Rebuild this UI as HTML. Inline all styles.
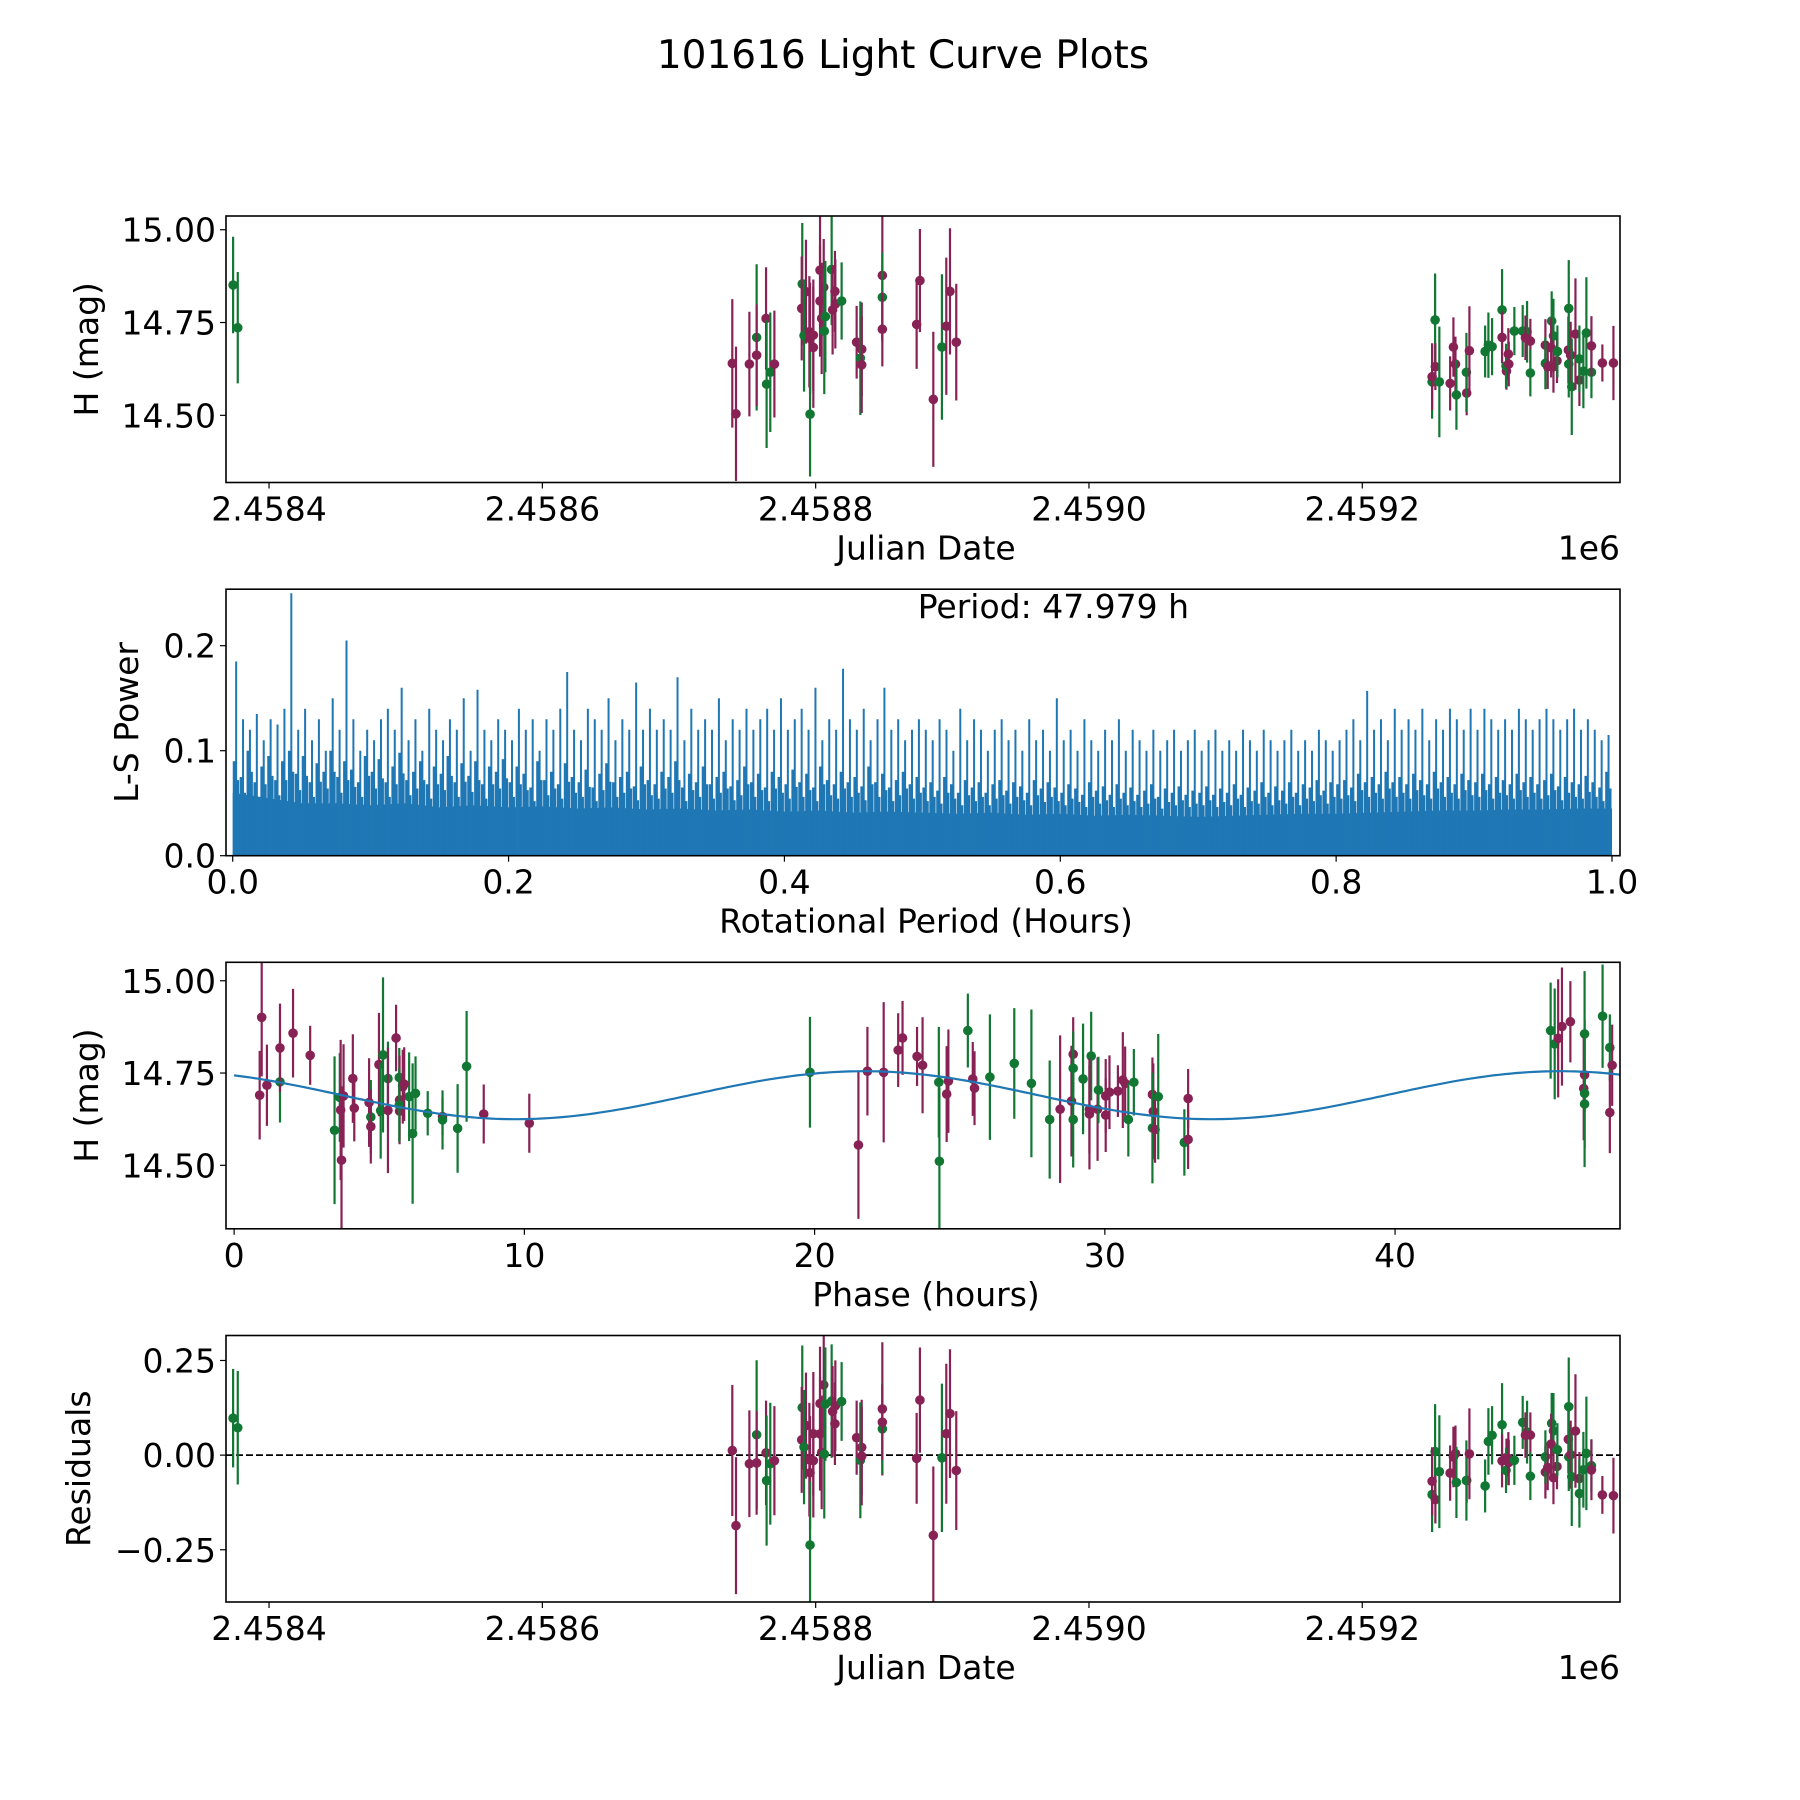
<!DOCTYPE html>
<html><head><meta charset="utf-8"><title>101616 Light Curve Plots</title>
<style>html,body{margin:0;padding:0;background:#fff}svg{display:block}text{font-family:"DejaVu Sans","Liberation Sans",sans-serif;fill:#000}</style>
</head><body>
<svg id="fig" width="1800" height="1800" viewBox="0 0 1800 1800" xmlns="http://www.w3.org/2000/svg">
<rect width="1800" height="1800" fill="#fff"/>
<text x="903" y="68" font-size="39" text-anchor="middle">101616 Light Curve Plots</text>
</svg>
<script>
// ---- data (JD offsets from 2458400) ----
const JD0 = 2458400;
const jdOffsets = [-26.3,-22.9,339.0,341.7,351.5,356.8,356.8,363.7,364.1,366.8,369.8,390.2,389.8,392.9,391.5,395.4,395.9,398.3,398.3,395.9,403.2,403.2,404.4,405.9,407.1,406.3,411.7,414.1,414.4,412.4,419.0,430.0,433.7,432.7,433.7,448.8,448.8,448.8,473.9,476.3,486.1,492.4,495.6,498.3,502.9,
853.3,851.1,851.1,853.5,856.4,864.3,866.7,868.2,868.9,876.4,876.2,878.4,889.9,892.3,895.0,902.3,902.3,905.5,905.2,906.9,907.2,911.3,917.4,920.6,919.4,923.0,923.0,934.0,934.0,935.7,938.6,939.9,938.2,939.9,942.5,942.8,950.8,951.1,951.1,952.5,953.3,956.0,958.9,958.9,961.8,964.0,967.7,967.7,975.7,983.8];
const magnitudes = [14.851,14.736,14.640,14.504,14.638,14.710,14.662,14.761,14.584,14.616,14.638,14.854,14.788,14.833,14.715,14.725,14.707,14.716,14.683,14.503,14.891,14.808,14.761,14.845,14.766,14.727,14.893,14.834,14.800,14.784,14.808,14.697,14.678,14.654,14.636,14.877,14.818,14.732,14.745,14.863,14.543,14.684,14.740,14.834,14.697,
14.757,14.590,14.604,14.631,14.590,14.586,14.684,14.638,14.555,14.560,14.616,14.674,14.672,14.689,14.685,14.784,14.710,14.619,14.633,14.665,14.638,14.727,14.727,14.725,14.709,14.700,14.614,14.689,14.640,14.631,14.754,14.714,14.682,14.631,14.647,14.672,14.676,14.788,14.638,14.662,14.577,14.719,14.595,14.652,14.619,14.722,14.616,14.687,14.641,14.641];
const magErrors = [0.13,0.15,0.173,0.181,0.141,0.197,0.137,0.138,0.172,0.161,0.144,0.164,0.14,0.14,0.151,0.15,0.15,0.15,0.163,0.168,0.15,0.15,0.15,0.13,0.15,0.17,0.15,0.109,0.12,0.12,0.104,0.098,0.126,0.153,0.13,0.176,0.12,0.1,0.12,0.139,0.182,0.196,0.185,0.17,0.157,
0.125,0.099,0.09,0.063,0.149,0.073,0.08,0.074,0.094,0.06,0.106,0.12,0.07,0.088,0.077,0.11,0.07,0.05,0.06,0.07,0.06,0.065,0.07,0.083,0.06,0.06,0.063,0.07,0.07,0.06,0.08,0.1,0.08,0.07,0.06,0.07,0.09,0.13,0.09,0.09,0.13,0.15,0.07,0.09,0.1,0.15,0.07,0.08,0.05,0.1];
const filterList = ["g","g","m","m","m","g","m","m","g","g","m","g","m","m","g","m","m","m","m","g","m","m","m","m","g","g","g","m","m","m","g","m","m","g","m","m","g","m","m","m","m","g","m","m","m",
"g","g","m","m","g","m","m","m","g","m","g","m","g","g","g","g","m","m","g","m","m","g","g","g","m","m","g","m","g","m","g","g","m","m","m","g","m","g","g","m","g","m","m","g","g","g","g","m","m","m"];
// phase-folded points (hours, mag, filter)
const phaseHours = [0.88,0.95,1.13,1.58,1.58,2.03,2.62,3.46,3.64,3.67,3.70,3.77,4.09,4.14,4.65,4.71,4.71,4.99,5.13,5.05,5.30,5.30,5.58,5.69,5.70,5.70,5.81,5.69,6.03,6.15,6.25,5.86,6.67,7.18,7.18,7.70,8.01,8.60,10.17,19.84,21.51,21.82,22.38,22.88,23.03,23.53,23.72,
24.28,24.30,24.55,24.61,25.28,25.45,25.51,26.04,26.88,27.47,28.10,28.46,28.85,28.91,28.91,28.91,29.25,29.53,29.47,29.47,29.75,29.78,30.03,30.03,30.16,30.45,30.62,30.70,30.81,31.00,31.64,31.67,31.64,31.73,31.84,32.74,32.87,32.87,45.36,45.50,45.62,45.75,46.04,46.53,46.53,46.50,46.53,46.53,47.15,47.40,47.48,47.40];
const phaseMags = [14.690,14.901,14.717,14.726,14.818,14.858,14.798,14.595,14.684,14.650,14.514,14.688,14.735,14.655,14.670,14.631,14.605,14.773,14.799,14.648,14.735,14.649,14.845,14.738,14.677,14.647,14.713,14.663,14.686,14.586,14.695,14.720,14.641,14.632,14.623,14.600,14.768,14.639,14.614,14.752,14.555,14.755,14.752,14.812,14.845,14.795,14.771,
14.725,14.511,14.693,14.728,14.865,14.734,14.709,14.739,14.776,14.722,14.624,14.652,14.674,14.801,14.763,14.624,14.734,14.796,14.652,14.639,14.652,14.704,14.688,14.636,14.698,14.701,14.731,14.722,14.624,14.725,14.692,14.646,14.601,14.597,14.686,14.562,14.570,14.681,14.865,14.829,14.844,14.876,14.889,14.856,14.745,14.708,14.695,14.666,14.904,14.819,14.771,14.643];
const phaseErrors = [0.12,0.16,0.11,0.11,0.12,0.12,0.08,0.2,0.12,0.19,0.2,0.14,0.12,0.09,0.12,0.1,0.1,0.14,0.21,0.13,0.1,0.17,0.09,0.08,0.12,0.08,0.1,0.1,0.12,0.19,0.1,0.1,0.06,0.05,0.08,0.12,0.15,0.08,0.08,0.15,0.2,0.12,0.19,0.1,0.1,0.08,0.13,
0.15,0.2,0.13,0.14,0.1,0.1,0.1,0.17,0.15,0.2,0.16,0.2,0.15,0.1,0.1,0.13,0.15,0.12,0.12,0.15,0.14,0.09,0.1,0.1,0.1,0.07,0.13,0.1,0.1,0.09,0.1,0.13,0.15,0.09,0.17,0.09,0.08,0.08,0.13,0.15,0.16,0.16,0.11,0.17,0.1,0.14,0.2,0.12,0.14,0.09,0.11,0.11];
const phaseFilters = ["m","m","m","g","m","m","m","g","g","m","m","m","m","m","m","g","m","m","g","g","g","m","m","g","m","m","m","g","g","g","g","m","g","m","g","g","g","m","m","g","m","m","m","m","m","m","m",
"g","g","m","m","g","m","m","g","g","g","g","m","m","m","g","g","g","g","m","m","m","g","m","m","m","m","m","m","g","g","m","m","g","m","g","g","m","m","g","g","m","m","m","g","m","m","g","g","g","g","m","m"];
// model (double-peaked fit) parameters
const periodHours = [47.979];
const modelParams = [14.69, 0.065, 21.7]; // mean, amplitude, peak phase (h)
// periodogram
const peakPower = [0.185,0.13,0.12,0.135,0.11,0.13,0.125,0.14,0.25,0.12,0.14,0.11,0.13,0.10,0.15,0.12,0.205,0.13,0.10,0.12,
0.11,0.13,0.14,0.12,0.16,0.11,0.13,0.10,0.14,0.12,0.11,0.13,0.12,0.15,0.10,0.158,0.12,0.11,0.13,0.12,
0.11,0.14,0.12,0.13,0.10,0.13,0.12,0.14,0.175,0.12,0.11,0.14,0.13,0.12,0.15,0.11,0.13,0.12,0.165,0.12,
0.14,0.12,0.13,0.12,0.17,0.11,0.14,0.12,0.13,0.12,0.15,0.11,0.13,0.12,0.14,0.12,0.13,0.14,0.12,0.15,
0.12,0.13,0.14,0.12,0.16,0.11,0.13,0.12,0.178,0.13,0.12,0.14,0.11,0.13,0.16,0.12,0.13,0.11,0.12,0.13,
0.12,0.11,0.13,0.12,0.10,0.14,0.11,0.13,0.12,0.10,0.12,0.13,0.11,0.12,0.10,0.13,0.11,0.12,0.10,0.15,
0.11,0.12,0.10,0.13,0.11,0.10,0.12,0.11,0.13,0.10,0.12,0.11,0.10,0.12,0.10,0.11,0.12,0.10,0.11,0.12,
0.10,0.11,0.12,0.10,0.11,0.10,0.12,0.11,0.10,0.12,0.11,0.10,0.11,0.12,0.10,0.11,0.10,0.12,0.11,0.10,
0.11,0.12,0.13,0.11,0.157,0.12,0.13,0.11,0.14,0.12,0.13,0.12,0.14,0.11,0.13,0.12,0.14,0.13,0.12,0.14,
0.12,0.14,0.13,0.12,0.13,0.12,0.14,0.13,0.12,0.13,0.14,0.13,0.12,0.13,0.14,0.12,0.13,0.12,0.11,0.115];
const midPower = [0.09,0.075,0.1,0.07,0.085,0.095,0.072,0.09,0.1,0.078,0.095,0.07,0.088,0.08,0.1,0.075,0.09,0.082,0.07,0.095,
0.08,0.092,0.07,0.085,0.098,0.072,0.08,0.09,0.068,0.085,0.078,0.095,0.07,0.088,0.076,0.09,0.068,0.085,0.08,0.092,
0.07,0.085,0.078,0.065,0.09,0.072,0.08,0.068,0.088,0.075,0.07,0.082,0.065,0.078,0.088,0.07,0.075,0.08,0.066,0.085,
0.072,0.068,0.08,0.075,0.09,0.065,0.078,0.07,0.085,0.068,0.075,0.08,0.066,0.072,0.085,0.07,0.078,0.065,0.08,0.075,
0.068,0.082,0.07,0.078,0.065,0.085,0.072,0.068,0.08,0.07,0.075,0.066,0.085,0.07,0.078,0.065,0.072,0.08,0.068,0.075,
0.065,0.07,0.062,0.075,0.068,0.06,0.072,0.065,0.07,0.06,0.068,0.072,0.062,0.07,0.066,0.06,0.072,0.064,0.07,0.065,
0.06,0.068,0.064,0.058,0.07,0.062,0.066,0.058,0.068,0.06,0.065,0.058,0.062,0.068,0.056,0.064,0.06,0.066,0.058,0.062,
0.06,0.066,0.058,0.064,0.06,0.068,0.058,0.065,0.062,0.07,0.06,0.066,0.062,0.07,0.06,0.068,0.065,0.072,0.062,0.07,
0.068,0.072,0.065,0.078,0.07,0.075,0.068,0.08,0.07,0.075,0.068,0.078,0.072,0.068,0.08,0.07,0.075,0.068,0.078,0.072,
0.07,0.078,0.068,0.075,0.072,0.068,0.078,0.07,0.075,0.068,0.072,0.078,0.066,0.075,0.07,0.068,0.076,0.07,0.065,0.08];
const basePower = [0.06,0.055,0.05,0.05,0.048,0.05,0.046,0.048,0.046,0.047,0.045,0.046,0.044,0.045,0.043,0.044,0.042,0.043,0.041,0.042,0.041,
0.04,0.041,0.039,0.04,0.038,0.039,0.038,0.037,0.038,0.039,0.04,0.04,0.041,0.042,0.043,0.043,0.044,0.044,0.045,0.045];

const NS="http://www.w3.org/2000/svg";
const svg=document.getElementById('fig');
function mk(tag,attrs,parent){const e=document.createElementNS(NS,tag);for(const k in attrs)e.setAttribute(k,attrs[k]);(parent||svg).appendChild(e);return e;}
const C={g:'#117733',m:'#882255'};
const L=226,R=1620,FS=33;
const panels=[[216,482.5],[589.2,855.7],[962.3,1228.8],[1335.5,1602]];
function lin(d0,d1,p0,p1){return v=>p0+(v-d0)/(d1-d0)*(p1-p0);}
function model(ph){return modelParams[0]+modelParams[1]*Math.cos(2*Math.PI*(ph-modelParams[2])/(periodHours[0]/2));}

// assign each light-curve point the phase of the closest folded point (same filter)
const used=phaseHours.map(()=>false);
const pointPhase=magnitudes.map((m,k)=>{let best=-1,bd=1e9;phaseMags.forEach((pm,j)=>{if(used[j])return;const d=Math.abs(pm-m)+(phaseFilters[j]===filterList[k]?0:0.05);if(d<bd){bd=d;best=j;}});if(best<0)return modelParams[2];used[best]=true;return phaseHours[best];});

function frame(name){const g=mk('g',{});return g;}
function border(g,i){const [t,b]=panels[i];const r=mk('rect',{x:L,y:t,width:R-L,height:b-t,fill:'none',stroke:'#000','stroke-width':1.6},g);}
function xticks(g,i,vals,labels,sx){const b=panels[i][1];vals.forEach((v,k)=>{const x=sx(v);mk('line',{x1:x,x2:x,y1:b,y2:b+6,stroke:'#000','stroke-width':1.2},g);const t=mk('text',{x:x,y:b+38,'font-size':FS,'text-anchor':'middle'},g);t.textContent=labels[k];});}
function yticks(g,vals,labels,sy){vals.forEach((v,k)=>{const y=sy(v);mk('line',{x1:L-6,x2:L,y1:y,y2:y,stroke:'#000','stroke-width':1.2},g);const t=mk('text',{x:L-10,y:y+12,'font-size':FS,'text-anchor':'end'},g);t.textContent=labels[k];});}
function xlabel(g,i,txt){const b=panels[i][1];const t=mk('text',{x:926,y:b+77,'font-size':FS,'text-anchor':'middle'},g);t.textContent=txt;}
function ylabel(g,i,txt,x){const [t0,b]=panels[i];const c=(t0+b)/2;const t=mk('text',{x:x,y:c,'font-size':FS,'text-anchor':'middle',transform:`rotate(-90 ${x} ${c})`},g);t.textContent=txt;}
function clip(i){const [t,b]=panels[i];const cp=mk('clipPath',{id:'c'+i});mk('rect',{x:L,y:t,width:R-L,height:b-t},cp);return 'url(#c'+i+')';}
function errpts(g,xs,ys,fl,cl){const gg=mk('g',{'clip-path':cl},g);xs.forEach((x,k)=>{const col=C[fl[k]];const ln=mk('line',{x1:x,x2:x,y1:ys[k][1],y2:ys[k][2],stroke:col,'stroke-width':2.2},gg);const c=mk('circle',{cx:x,cy:ys[k][0],r:4.8,fill:col},gg);});}
function offsetLabel(g,i){const e=mk('text',{x:R,y:panels[i][1]+77,'font-size':FS,'text-anchor':'end'},g);e.textContent='1e6';}

const jdTicks=[2458400,2458600,2458800,2459000,2459200];
const jdLabels=["2.4584","2.4586","2.4588","2.4590","2.4592"];
const sxJD=lin(JD0-31.5,JD0+988.6,L,R);

// Panel 1
{const g=frame('light-curve-panel');const sy=lin(14.319,15.037,panels[0][1],panels[0][0]);
const xs=jdOffsets.map(j=>sxJD(JD0+j));const ys=magnitudes.map((m,k)=>[sy(m),sy(m+magErrors[k]),sy(m-magErrors[k])]);
errpts(g,xs,ys,filterList,clip(0));border(g,0);
xticks(g,0,jdTicks,jdLabels,sxJD);yticks(g,[14.5,14.75,15.0],["14.50","14.75","15.00"],sy);
xlabel(g,0,"Julian Date");ylabel(g,0,"H (mag)",98);offsetLabel(g,0);}

// Panel 2 periodogram
{const g=frame('periodogram-panel');const sx=lin(0,1,232.7,1612);const sy=lin(0,0.2538,panels[1][1],panels[1][0]);
const gg=mk('g',{'clip-path':clip(1)},g);
let pts=[];basePower.forEach((p,k)=>pts.push(sx(k*0.025)+','+sy(p)));
pts.push(sx(1)+','+sy(0));pts.unshift(sx(0)+','+sy(0));
const poly=mk('polygon',{points:pts.join(' '),fill:'#1f77b4'},gg);
midPower.forEach((p,k)=>{const x=sx(0.0012+k*0.005);const l=mk('line',{x1:x,x2:x,y1:sy(0),y2:sy(p),stroke:'#1f77b4','stroke-width':3.2},gg);});
midPower.forEach((p,k)=>{const x=sx(0.0037+k*0.005);const l=mk('line',{x1:x,x2:x,y1:sy(0),y2:sy(p*0.8),stroke:'#1f77b4','stroke-width':2.6},gg);});
peakPower.forEach((p,k)=>{const x=sx(0.0025+k*0.005);const l=mk('line',{x1:x,x2:x,y1:sy(0),y2:sy(p),stroke:'#1f77b4','stroke-width':2},gg);});
border(g,1);
xticks(g,1,[0,0.2,0.4,0.6,0.8,1.0],["0.0","0.2","0.4","0.6","0.8","1.0"],sx);yticks(g,[0,0.1,0.2],["0.0","0.1","0.2"],sy);
xlabel(g,1,"Rotational Period (Hours)");ylabel(g,1,"L-S Power",138);
const t=mk('text',{x:sx(0.595),y:panels[1][0]+29,'font-size':FS,'text-anchor':'middle'},g);t.textContent='Period: '+periodHours[0].toFixed(3)+' h';}

// Panel 3 phased
{const g=frame('phased-curve-panel');const sx=lin(-0.28,47.75,L,R);const sy=lin(14.328,15.05,panels[2][1],panels[2][0]);
const cl=clip(2);const xs=phaseHours.map(p=>sx(p));const ys=phaseMags.map((m,k)=>[sy(m),sy(m+phaseErrors[k]),sy(m-phaseErrors[k])]);
errpts(g,xs,ys,phaseFilters,cl);
let d='';for(let k=0;k<=240;k++){const ph=k/240*periodHours[0];d+=(k?'L':'M')+sx(ph).toFixed(1)+' '+sy(model(ph)).toFixed(1);}
const p=mk('path',{d:d,fill:'none',stroke:'#1f77b4','stroke-width':2.2,'clip-path':cl},g);
border(g,2);
xticks(g,2,[0,10,20,30,40],["0","10","20","30","40"],sx);yticks(g,[14.5,14.75,15.0],["14.50","14.75","15.00"],sy);
xlabel(g,2,"Phase (hours)");ylabel(g,2,"H (mag)",98);}

// Panel 4 residuals
{const g=frame('residuals-panel');const sy=lin(-0.388,0.316,panels[3][1],panels[3][0]);
const res=magnitudes.map((m,k)=>m-model(pointPhase[k]));
const xs=jdOffsets.map(j=>sxJD(JD0+j));const ys=res.map((r,k)=>[sy(r),sy(r+magErrors[k]),sy(r-magErrors[k])]);
const z=mk('line',{x1:L,x2:R,y1:sy(0),y2:sy(0),stroke:'#000','stroke-width':1.8,'stroke-dasharray':'7,3'},g);
errpts(g,xs,ys,filterList,clip(3));border(g,3);
xticks(g,3,jdTicks,jdLabels,sxJD);yticks(g,[-0.25,0,0.25],["\u22120.25","0.00","0.25"],sy);
xlabel(g,3,"Julian Date");ylabel(g,3,"Residuals",90);offsetLabel(g,3);}
</script>
</body></html>
